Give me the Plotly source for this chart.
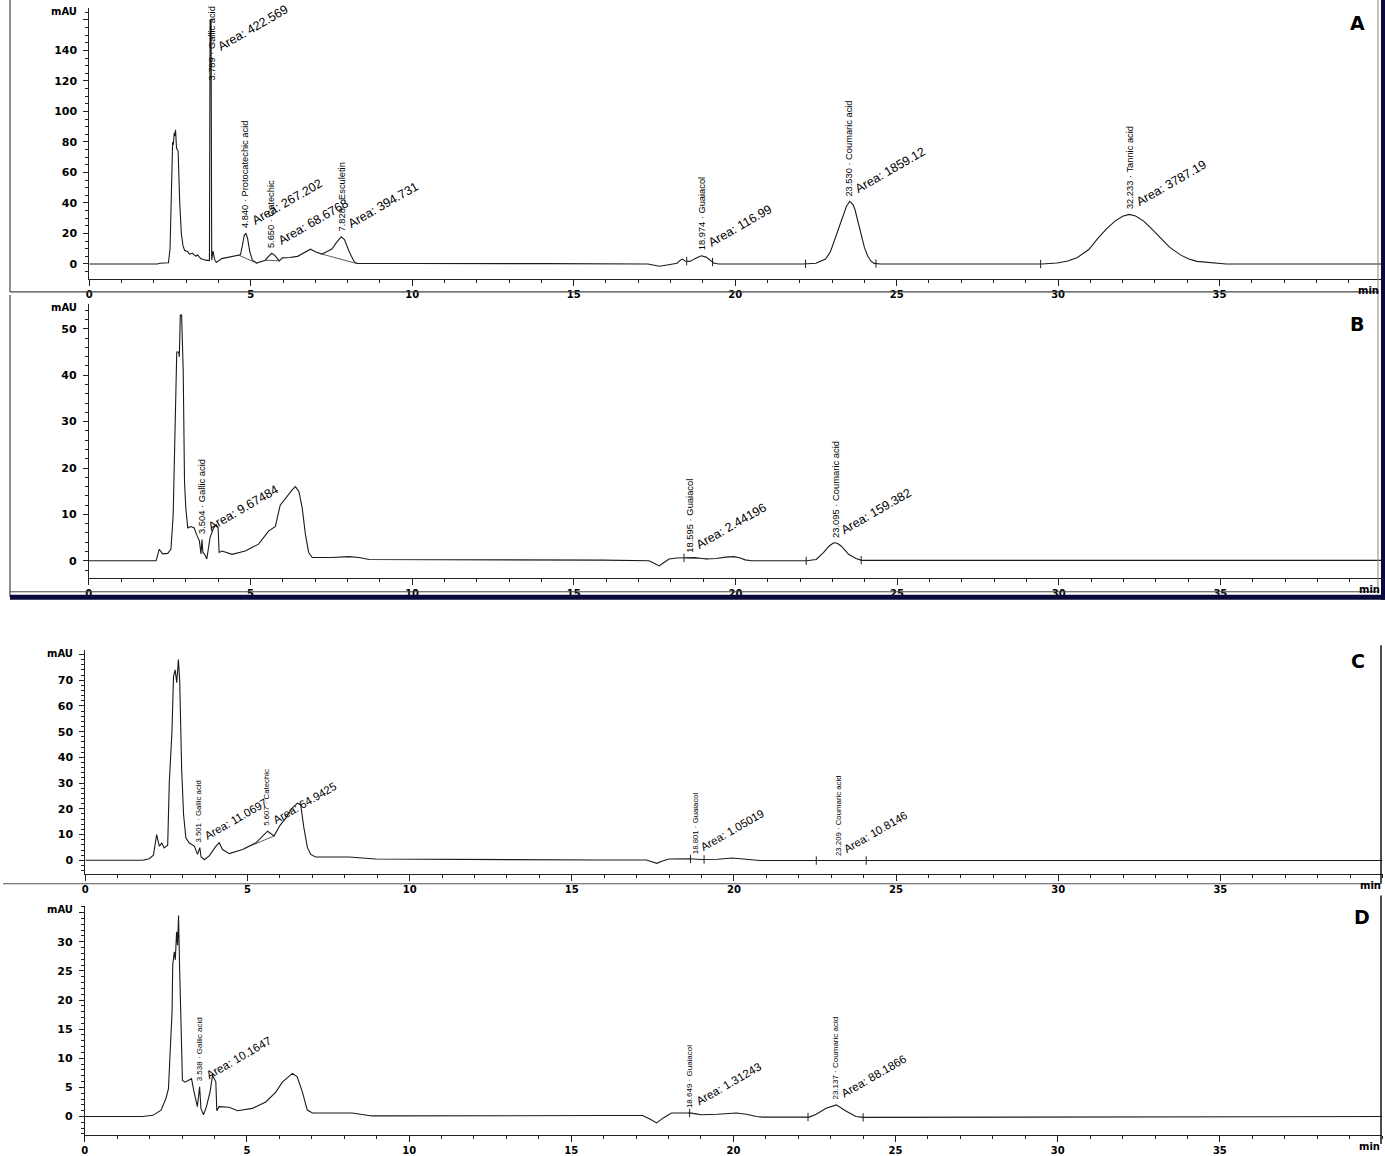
import numpy as np
import plotly.graph_objects as go

# ---------------- data ----------------
A_t = [0, 2.1, 2.2, 2.45, 2.5, 2.55, 2.58, 2.6, 2.63, 2.65, 2.67, 2.7, 2.75, 2.8, 2.85, 2.9, 2.95, 3.05, 3.1, 3.2,
       3.3, 3.35, 3.45, 3.6, 3.72, 3.74, 3.77, 3.79, 3.83, 3.88, 3.93, 4.1, 4.3, 4.5, 4.6, 4.68, 4.74, 4.8, 4.85, 4.9,
       4.97, 5.05, 5.18, 5.3, 5.45, 5.55, 5.65, 5.75, 5.88, 5.98, 6.2, 6.45, 6.65, 6.85, 7.0, 7.2, 7.35, 7.52, 7.65, 7.8,
       7.9, 8.05, 8.2, 8.3, 10, 13.0, 13.2, 13.9, 14.1, 17.3, 17.5, 17.65, 17.85, 18.0, 18.2, 18.3, 18.37, 18.45, 18.6, 18.75,
       18.95, 19.1, 19.25, 19.35, 19.5, 22.1, 22.5, 22.8, 22.95, 23.07, 23.2, 23.33, 23.45, 23.55, 23.65, 23.71, 23.8, 23.9, 24.0, 24.1,
       24.2, 24.3, 24.5, 29.5, 29.97, 30.3, 30.6, 30.95, 31.25, 31.5, 31.76, 32.0, 32.2, 32.4, 32.65, 32.9, 33.16, 33.45, 33.8, 34.05,
       34.3, 34.82, 35.0, 35.2, 40]
A_v = [0, 0, 0.5, 0.8, 10, 60, 80, 78, 86, 84, 88, 76, 74, 40, 20, 12, 9, 8, 6.5, 7,
       5, 6, 3.5, 2.5, 2.2, 160, 160, 2.5, 8.5, 3, 1, 3.5, 4.5, 5.5, 6.0, 6, 12, 19, 20, 17,
       8, 2.5, 0.6, 1.5, 2.5, 5, 7, 5.5, 2, 4, 4.2, 5, 7.5, 9.7, 8, 6.5, 8, 10, 14, 17.8,
       16, 8, 1.5, 0.3, 0.3, 0.3, 0.6, 0.5, 0.2, 0, -1.0, -1.5, -0.8, -0.3, 0.5, 2.5, 3.2, 2.0, 1.7, 3.5,
       5.4, 4.5, 2, 0.5, 0, 0, 0.5, 3.3, 8, 15.2, 24, 31.4, 38, 41, 39, 35.7, 28, 19.5, 11, 5.4,
       2, 0.4, 0, 0, 0.6, 2, 4.3, 9.5, 17.3, 23, 28.1, 31.3, 32.5, 31.5, 28.1, 23, 17.3, 11, 5.8, 3.2,
       1.7, 0.9, 0.3, 0, 0]

B_t = [0, 2.08, 2.18, 2.28, 2.44, 2.54, 2.61, 2.68, 2.72, 2.78, 2.8, 2.83, 2.87, 2.92, 2.96, 3.0, 3.06, 3.16, 3.26, 3.33,
       3.42, 3.47, 3.5, 3.53, 3.6, 3.65, 3.75, 3.86, 3.94, 4.0, 4.03, 4.12, 4.43, 4.84, 5.25, 5.56, 5.77, 5.92, 6.08, 6.29,
       6.39, 6.5, 6.6, 6.7, 6.8, 6.91, 7.5, 8.05, 8.36, 8.67, 15.9, 17.33, 17.5, 17.64, 17.8, 17.95, 18.18, 18.73, 19.1, 19.41,
       19.7, 19.95, 20.15, 20.3, 20.5, 22.2, 22.5, 22.73, 22.9, 23.04, 23.15, 23.27, 23.4, 23.5, 23.73, 23.9, 40]
B_v = [0, 0, 2.5, 1.5, 1.6, 2.5, 10, 32.7, 45, 45, 44, 53, 53, 40.9, 17, 11.4, 7.1, 7.4, 7.1, 5.7,
       4.3, 1.5, 4.6, 1.8, 1.2, 0.4, 5, 7.1, 7.8, 7.1, 1.8, 2.1, 1.4, 2.1, 3.6, 6.4, 7.4, 12, 13.5, 15.3,
       16, 14.9, 11.4, 5.7, 1.8, 0.7, 0.7, 0.9, 0.7, 0.3, 0.15, 0, -0.6, -1.1, -0.3, 0.4, 0.6, 0.7, 0.4, 0.5,
       0.8, 0.9, 0.6, 0.2, 0, 0, 0.3, 1.8, 3.2, 3.9, 3.8, 3.2, 2.2, 1.4, 0.5, 0.1, 0.1]

C_t = [0, 1.77, 1.97, 2.1, 2.2, 2.28, 2.36, 2.43, 2.54, 2.59, 2.67, 2.72, 2.77, 2.82, 2.87, 2.91, 2.97, 3.03, 3.1, 3.2,
       3.36, 3.46, 3.53, 3.57, 3.67, 3.82, 4.03, 4.13, 4.23, 4.44, 4.85, 5.26, 5.62, 5.82, 6.0, 6.18, 6.38, 6.54, 6.64, 6.74,
       6.85, 6.95, 7.1, 8.13, 8.54, 8.95, 15.9, 17.3, 17.45, 17.62, 17.8, 18.0, 18.62, 19.0, 19.5, 19.95, 20.2, 20.54, 20.8, 40]
C_v = [0, 0, 0.6, 2, 10, 5.5, 6.7, 4.8, 5.9, 30.5, 49.7, 71.5, 74, 69, 78, 70, 35.6, 17.7, 8.7, 6.8,
       5.5, 2.3, 4.9, 1.3, 0.2, 1.7, 5.5, 6.8, 4.2, 2.6, 4.2, 6.8, 11.3, 9.5, 13.5, 16.4, 20.3, 22.2, 21.6, 12.6,
       4.9, 2.3, 1.3, 1.3, 0.9, 0.5, 0.1, 0.1, -0.5, -1.2, -0.3, 0.5, 0.6, 0.3, 0.4, 0.9, 0.6, 0.1, -0.1, -0.1]

D_t = [0, 1.78, 2.1, 2.35, 2.5, 2.58, 2.63, 2.69, 2.71, 2.76, 2.79, 2.83, 2.86, 2.89, 2.92, 2.97, 3.01, 3.09, 3.21, 3.29,
       3.37, 3.47, 3.54, 3.58, 3.66, 3.75, 3.86, 3.94, 4.04, 4.07, 4.14, 4.45, 4.71, 5.17, 5.58, 5.89, 6.09, 6.4, 6.55, 6.71,
       6.86, 7.02, 8.24, 8.55, 8.86, 15.9, 17.2, 17.45, 17.63, 17.85, 18.09, 18.71, 19.01, 19.5, 20.09, 20.4, 20.71, 20.9, 22.34, 22.55,
       22.86, 23.17, 23.48, 23.78, 24.0, 40]
D_v = [0, 0, 0.2, 1.1, 3.1, 4.8, 11, 17.9, 26, 28.3, 26.9, 31.7, 29.4, 34.5, 26.3, 11.6, 6.2, 5.9, 6.2, 6.5,
       4.2, 1.7, 5.1, 1.4, 0.3, 1.7, 4.2, 7.1, 5.9, 1.0, 1.7, 1.6, 1.0, 1.4, 2.5, 4.2, 5.9, 7.4, 6.8, 4.2,
       1.1, 0.6, 0.6, 0.3, 0.1, 0.17, 0.17, -0.5, -1.1, -0.2, 0.6, 0.6, 0.3, 0.4, 0.6, 0.4, 0, -0.1, -0.1, 0.4,
       1.4, 2.0, 0.9, 0, -0.15, 0]

# peak tables: retention time, compound, area
A_rt = [3.789, 4.840, 5.650, 7.828, 18.974, 23.530, 32.233]
A_name = ["Gallic acid", "Protocatechic acid", "Catechic", "Esculetin", "Guaiacol", "Coumaric acid", "Tannic acid"]
A_area = [422.569, 267.202, 68.6768, 394.731, 116.99, 1859.12, 3787.19]

B_rt = [3.504, 18.595, 23.095]
B_name = ["Gallic acid", "Guaiacol", "Coumaric acid"]
B_area = [9.67484, 2.44196, 159.382]

C_rt = [3.501, 5.607, 18.801, 23.209]
C_name = ["Gallic acid", "Catechic", "Guaiacol", "Coumaric acid"]
C_area = [11.0697, 64.9425, 1.05019, 10.8146]

D_rt = [3.538, 18.649, 23.137]
D_name = ["Gallic acid", "Guaiacol", "Coumaric acid"]
D_area = [10.1647, 1.31243, 88.1866]

# integration baselines (start t, start v, end t, end v) and event marks
A_base = [(4.6, 6.0, 5.18, 0.6), (5.45, 2.5, 5.9, 2.0), (7.2, 6.5, 8.28, 0.3)]
B_base = [(18.45, 0.6, 19.15, 0.45)]
C_base = [(4.9, 4.6, 5.85, 9.6)]
D_base = [(18.6, 0.6, 19.0, 0.3)]
A_ev = [18.5, 19.3, 22.18, 24.36, 29.46]
B_ev = [18.41, 22.19, 23.89]
C_ev = [18.66, 19.08, 22.54, 24.08]
D_ev = [18.65, 22.3, 24.0]

x_ticks = [0, 5, 10, 15, 20, 25, 30, 35]

# ---------------- layout geometry (pixels of the 1385x1156 page) ----------------
W, H = 1385, 1156
VFONT = "Liberation Sans, Arial, sans-serif"
AFONT = "Liberation Sans, Arial, sans-serif"
TFONT = "DejaVu Sans, Verdana, sans-serif"

panels = [
    dict(L="A", t=A_t, v=A_v, rt=A_rt, nm=A_name, ar=A_area, base=A_base, ev=A_ev,
         x0=86.5, x1=1381, ytop=8, ybot=282, yr=[-9.9, 167.9], ylab=list(range(0, 141, 20)), yextra=160,
         ymin=5, vs=9.3, asz=12.5, letter=(1357, 23)),
    dict(L="B", t=B_t, v=B_v, rt=B_rt, nm=B_name, ar=B_area, base=B_base, ev=B_ev,
         x0=86, x1=1382, ytop=306.7, ybot=584, yr=[-3.69, 55.46], ylab=list(range(0, 51, 10)), yextra=None,
         ymin=2, vs=9.4, asz=12.5, letter=(1357, 327)),
    dict(L="C", t=C_t, v=C_v, rt=C_rt, nm=C_name, ar=C_area, base=C_base, ev=C_ev,
         x0=82.5, x1=1382.5, ytop=656.7, ybot=883.3, yr=[-5.38, 81.8], ylab=list(range(0, 71, 10)), yextra=80,
         ymin=2, vs=7.8, asz=11.3, letter=(1358, 668)),
    dict(L="D", t=D_t, v=D_v, rt=D_rt, nm=D_name, ar=D_area, base=D_base, ev=D_ev,
         x0=82, x1=1382, ytop=915, ybot=1146.7, yr=[-3.14, 36.23], ylab=list(range(0, 31, 5)), yextra=35,
         ymin=1, vs=8.0, asz=11.6, letter=(1362, 927)),
]


def px2x(p):
    return p / W


def px2y(p):
    return 1 - p / H


def peak_val(t, v, rt):
    t = np.asarray(t, float)
    v = np.asarray(v, float)
    base = float(np.interp(rt, t, v))
    w = v[(t >= rt - 0.05) & (t <= rt + 0.05)]
    return max(base, float(w.max())) if w.size else base


fig = go.Figure()
annotations = []
shapes = []
layout_axes = {}

for i, p in enumerate(panels, start=1):
    xa = "x" if i == 1 else f"x{i}"
    ya = "y" if i == 1 else f"y{i}"
    xkey = "xaxis" if i == 1 else f"xaxis{i}"
    ykey = "yaxis" if i == 1 else f"yaxis{i}"

    fig.add_trace(go.Scatter(x=p["t"], y=p["v"], mode="lines", xaxis=xa, yaxis=ya,
                             line=dict(color="#1a1a1a", width=1.1), hoverinfo="skip", showlegend=False))
    for (ta, va, tb, vb) in p["base"]:
        fig.add_trace(go.Scatter(x=[ta, tb], y=[va, vb], mode="lines", xaxis=xa, yaxis=ya,
                                 line=dict(color="#333", width=0.8), hoverinfo="skip", showlegend=False))
    ev_y = [float(np.interp(e, p["t"], p["v"])) for e in p["ev"]]
    fig.add_trace(go.Scatter(x=p["ev"], y=ev_y, mode="markers", xaxis=xa, yaxis=ya,
                             marker=dict(symbol="line-ns-open", size=6, color="#222", line=dict(color="#222", width=1)),
                             hoverinfo="skip", showlegend=False))

    ytv = p["ylab"] + ([p["yextra"]] if p["yextra"] is not None else [])
    ytt = [str(k) for k in p["ylab"]] + ([""] if p["yextra"] is not None else [])

    layout_axes[xkey] = dict(
        domain=[px2x(p["x0"]), px2x(p["x1"])], range=[0, 40], anchor=ya,
        showline=True, linecolor="#222", linewidth=1, showgrid=False, zeroline=False,
        tickmode="array", tickvals=x_ticks, ticktext=[str(k) for k in x_ticks],
        ticks="outside", ticklen=6, tickcolor="#222", tickwidth=1,
        minor=dict(tickmode="linear", tick0=0, dtick=1, ticks="outside", ticklen=3, tickcolor="#222"),
        tickfont=dict(family=TFONT, size=10, color="black", weight="bold"),
        ticklabelstandoff=0, fixedrange=True,
    )
    layout_axes[ykey] = dict(
        domain=[px2y(p["ybot"]), px2y(p["ytop"])], range=p["yr"], anchor=xa,
        showline=True, linecolor="#222", linewidth=1, showgrid=False, zeroline=False,
        tickmode="array", tickvals=ytv, ticktext=ytt,
        ticks="outside", ticklen=5, tickcolor="#222", tickwidth=1,
        minor=dict(tickmode="linear", tick0=0, dtick=p["ymin"], ticks="outside", ticklen=3, tickcolor="#222"),
        tickfont=dict(family=TFONT, size=11, color="black", weight="bold"),
        ticklabelstandoff=4, fixedrange=True,
    )

    # axis captions
    annotations.append(dict(text="mAU", xref=f"{xa} domain", yref=f"{ya} domain", x=0, y=1,
                            xanchor="right", yanchor="middle", xshift=-10, yshift=-4, showarrow=False,
                            font=dict(family=TFONT, size=10, color="black", weight="bold")))
    annotations.append(dict(text="min", xref=f"{xa} domain", yref=f"{ya} domain", x=1, y=0,
                            xanchor="right", yanchor="top", xshift=0, yshift=-4, showarrow=False,
                            font=dict(family=TFONT, size=10, color="black", weight="bold")))
    # panel letter
    annotations.append(dict(text=f"<b>{p['L']}</b>", xref="paper", yref="paper",
                            x=px2x(p["letter"][0]), y=px2y(p["letter"][1]), xanchor="center", yanchor="middle",
                            showarrow=False, font=dict(family=TFONT, size=19, color="black")))

    # peak labels
    ytop_val = p["yr"][1]
    for rt, nm, ar in zip(p["rt"], p["nm"], p["ar"]):
        val = peak_val(p["t"], p["v"], rt)
        capped = val > 0.7 * ytop_val
        vert = dict(text=f"{rt:.3f} · {nm}", x=rt, xref=xa, textangle=-90, xanchor="center",
                    showarrow=False, font=dict(family=VFONT, size=p["vs"], color="black"))
        area = dict(text=f"Area: {ar}", x=rt, xref=xa, textangle=-30, xanchor="left", xshift=1,
                    showarrow=False, font=dict(family=AFONT, size=p["asz"], color="black"))
        if capped:
            vert.update(yref=f"{ya} domain", y=1, yanchor="top", yshift=3)
            area.update(yref=f"{ya} domain", y=1, yanchor="top", yshift=8)
        else:
            vert.update(yref=ya, y=val, yanchor="bottom", yshift=3)
            area.update(yref=ya, y=val, yanchor="bottom", yshift=3)
        annotations.append(vert)
        annotations.append(area)

# ---------------- frames of the pasted screenshots ----------------
def hline(x0, x1, y, color, width):
    shapes.append(dict(type="line", xref="paper", yref="paper", x0=px2x(x0), x1=px2x(x1),
                       y0=px2y(y), y1=px2y(y), line=dict(color=color, width=width)))


def vline(x, y0, y1, color, width):
    shapes.append(dict(type="line", xref="paper", yref="paper", x0=px2x(x), x1=px2x(x),
                       y0=px2y(y0), y1=px2y(y1), line=dict(color=color, width=width)))


vline(7, 0, 295, "#444", 1.2)
hline(7, 1379, 295, "#444", 1.2)
vline(7, 298, 603, "#444", 1.2)
hline(7, 1379, 598, "#444", 1)
hline(7, 1385, 603.5, "#0a0a3a", 5)
vline(1378, 0, 600, "#888", 1)
vline(1383, 0, 606, "#0a0a3a", 4)
hline(0, 1381, 893, "#555", 1.2)
vline(1381, 652, 893, "#111", 1.5)
vline(1381, 905, 1156, "#111", 1.5)

fig.update_layout(
    width=W, height=H, margin=dict(l=0, r=0, t=0, b=0),
    paper_bgcolor="white", plot_bgcolor="white", showlegend=False,
    annotations=annotations, shapes=shapes, **layout_axes,
)

fig.write_html("out.html", config={"displayModeBar": False},
               post_script="document.body.style.margin='0';document.body.style.overflow='hidden';")
